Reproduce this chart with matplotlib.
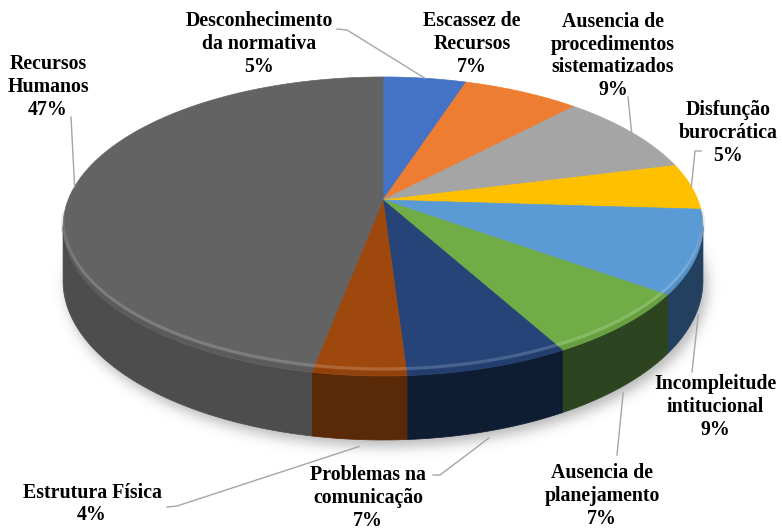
"""
3D pie (Excel style) - causes / percentages, drawn by hand in pixel space.
Saves: out.png
"""
import numpy as np
import matplotlib
matplotlib.use("Agg")
import matplotlib.pyplot as plt
from matplotlib.patches import Polygon
from matplotlib.path import Path

# ── Data ──────────────────────────────────────────────────────────────────────
labels = [
    "Desconhecimento\nda normativa",
    "Escassez de\nRecursos",
    "Ausencia de\nprocedimentos\nsistematizados",
    "Disfunção\nburocrática",
    "Incompleitude\nintitucional",
    "Ausencia de\nplanejamento",
    "Problemas na\ncomunicação",
    "Estrutura Física",
    "Recursos\nHumanos",
]
values = [5, 7, 9, 5, 9, 7, 7, 4, 47]

# ── Style ─────────────────────────────────────────────────────────────────────
TOP_COLORS  = ["#4472C4", "#ED7D31", "#A5A5A5", "#FFC000", "#5B9BD5",
               "#70AD47", "#264478", "#9E480E", "#636363"]
SIDE_COLORS = ["#24406e", "#7a3e15", "#5a5a5a", "#8a6800", "#23415f",
               "#2c4420", "#0f1d33", "#5a2a08", "#4d4d4d"]
LEADER = "#a6a6a6"
FONT = dict(family="Liberation Serif", weight="bold", size=14.3, color="black")

W, H = 782, 530
CX, CY = 383, 200          # projected centre of the top face
A, B, K = 314.9, 144.8, 0.177   # perspective ellipse params
D0 = 52.7                  # side depth

# label centre, leader points on the label side, anchor face (0 top rim, 1 bottom rim)
label_pos = [(259, 44), (472, 44), (613, 56), (728, 133), (715, 407),
             (602, 496), (368, 498), (92, 504), (48, 87)]
leader_pts = [[(337, 29), (347, 30)], None, [(628, 97)], [(701, 151), (695, 151)],
              [(692, 372)], [(617, 455)], [(433, 475), (440, 475)],
              [(167, 507), (177, 506)], [(71, 117)]]
leader_face = [0, 0, 0, 0, 1, 1, 1, 1, 0]


def proj(alpha_deg, r=1.0, drop=0.0):
    a = np.radians(alpha_deg)
    u = r * np.sin(a)
    v = r * np.cos(a)
    w = 1 + K * v
    return CX + A * u / w, CY - B * v / w + drop * D0 / w


fig = plt.figure(figsize=(W / 100, H / 100), dpi=100, facecolor="white")
ax = fig.add_axes([0, 0, 1, 1])
ax.set_xlim(0, W)
ax.set_ylim(H, 0)
ax.axis("off")

cum = np.concatenate([[0], np.cumsum(values)]) / sum(values) * 360.0

# ── soft shadow under the pie ────────────────────────────────────────────────
full = np.linspace(0, 360, 361)
bx, by = proj(full, 1.0, 1.0)
path = Path(np.column_stack([bx + 4, by + 6]))
yy, xx = np.mgrid[0:H, 0:W] + 0.5
mask = path.contains_points(np.column_stack([xx.ravel(), yy.ravel()])).reshape(H, W).astype(float)
g = np.exp(-np.arange(-21, 22) ** 2 / (2 * 6.5 ** 2))
g /= g.sum()
blur = np.apply_along_axis(lambda m: np.convolve(m, g, mode="same"), 1, mask)
blur = np.apply_along_axis(lambda m: np.convolve(m, g, mode="same"), 0, blur)
shadow = np.zeros((H, W, 4))
shadow[..., :3] = 0.42
shadow[..., 3] = 0.5 * blur
ax.imshow(shadow, extent=(0, W, H, 0), zorder=0, interpolation="bilinear")

# ── sides ────────────────────────────────────────────────────────────────────
a_r = 90 + np.degrees(np.arcsin(K))
a_l = 270 - np.degrees(np.arcsin(K))
for i in range(len(values)):
    a0, a1 = max(cum[i], a_r), min(cum[i + 1], a_l)
    if a1 <= a0:
        continue
    t = np.linspace(a0, a1, 80)
    tx, ty = proj(t, 1.0, 0.0)
    sx, sy = proj(t[::-1], 1.0, 1.0)
    pts = np.column_stack([np.r_[tx, sx], np.r_[ty, sy]])
    ax.add_patch(Polygon(pts, closed=True, facecolor=SIDE_COLORS[i],
                         edgecolor=SIDE_COLORS[i], lw=0.5, zorder=2))

# ── top face ─────────────────────────────────────────────────────────────────
for i in range(len(values)):
    t = np.linspace(cum[i], cum[i + 1], 120)
    tx, ty = proj(t)
    pts = np.column_stack([np.r_[CX, tx], np.r_[CY, ty]])
    ax.add_patch(Polygon(pts, closed=True, facecolor=TOP_COLORS[i],
                         edgecolor=TOP_COLORS[i], lw=0.5, zorder=3))

# bevel: soft highlight just above the front rim, darker lip at the edge
t = np.linspace(a_r - 4, a_l + 4, 200)
rx, ry = proj(t)
ax.plot(rx, ry - 7, color="white", alpha=0.17, lw=2.2, zorder=4, solid_capstyle="round")
ax.plot(rx, ry - 2.5, color="black", alpha=0.08, lw=3.0, zorder=4)

# ── labels and leader lines ──────────────────────────────────────────────────
for i, (lab, val) in enumerate(zip(labels, values)):
    lx, ly = label_pos[i]
    ax.text(lx, ly, f"{lab}\n{val}%", ha="center", va="center",
            multialignment="center", linespacing=1.18, zorder=6, **FONT)
    if leader_pts[i] is None:
        continue
    mid = (cum[i] + cum[i + 1]) / 2
    axp, ayp = proj(mid, 1.0, leader_face[i])
    if leader_face[i]:
        ayp += 7
    xs = [p[0] for p in leader_pts[i]] + [axp]
    ys = [p[1] for p in leader_pts[i]] + [ayp]
    ax.plot(xs, ys, color=LEADER, lw=1.0, zorder=5)

fig.savefig("out.png", dpi=100, facecolor="white")
